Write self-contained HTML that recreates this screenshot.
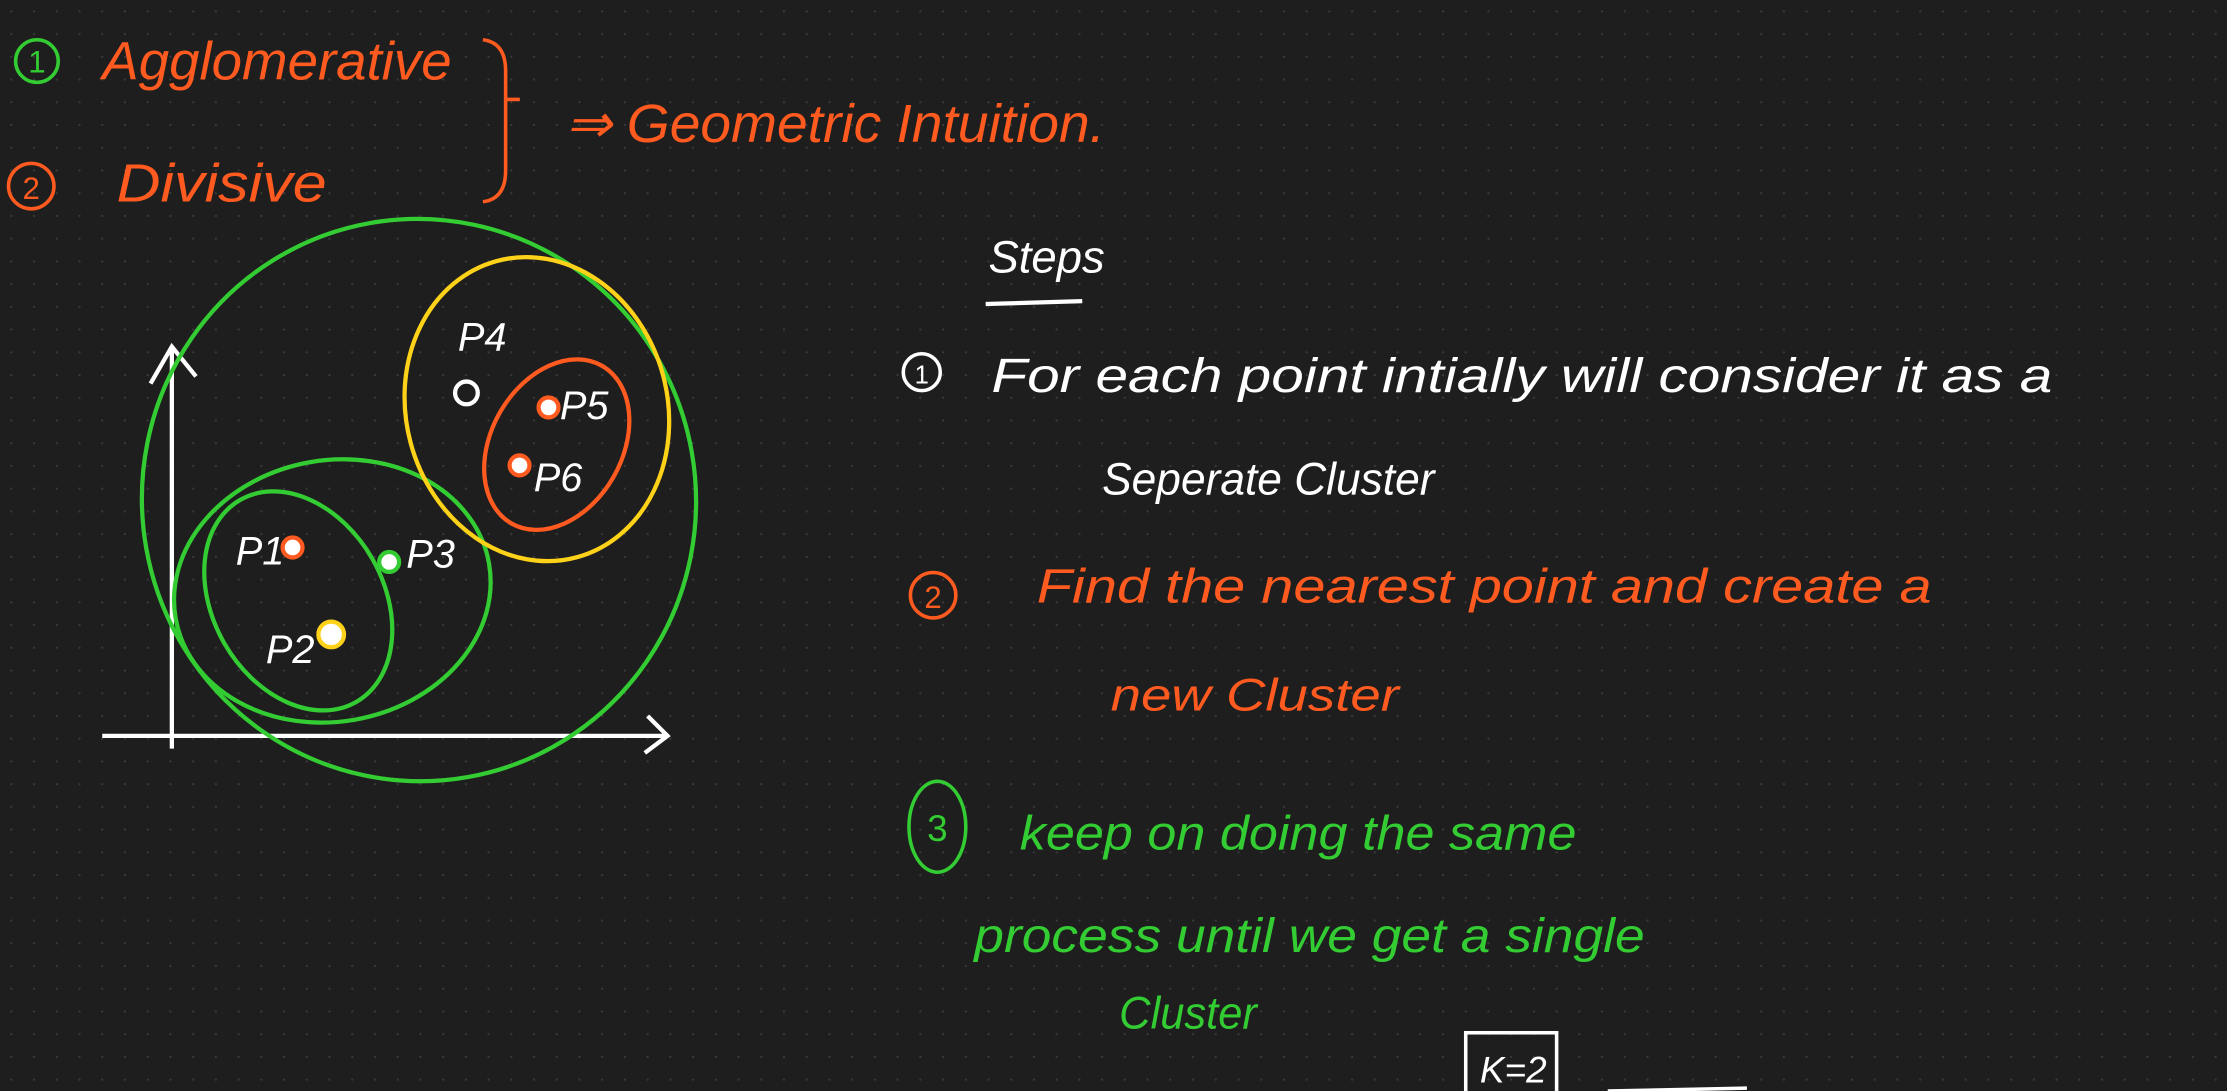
<!DOCTYPE html>
<html><head><meta charset="utf-8"><style>
html,body{margin:0;padding:0;background:#1e1e1e;}
svg{display:block;}
text{font-family:"Liberation Sans",sans-serif;}
</style></head><body>
<svg width="2227" height="1091" viewBox="0 0 1568 768" preserveAspectRatio="none" xmlns="http://www.w3.org/2000/svg">
<defs><pattern id="dots" width="16" height="16" patternUnits="userSpaceOnUse"><circle cx="8" cy="8" r="0.8" fill="#3a3a3a"/></pattern></defs>
<rect width="1568" height="768" fill="#1e1e1e"/>
<rect width="1568" height="768" fill="url(#dots)"/>

<g fill="none" stroke-width="2.5">
<circle cx="26" cy="43" r="15" stroke="#33cc33"/>
<text x="26" y="51" font-size="22" fill="#33cc33" stroke="none" text-anchor="middle">1</text>
<text x="72" y="56" font-size="38" fill="#ff5a1f" stroke="none" font-style="italic" textLength="246" lengthAdjust="spacingAndGlyphs">Agglomerative</text>
<circle cx="22" cy="131" r="16" stroke="#ff5a1f"/>
<text x="22" y="140" font-size="22" fill="#ff5a1f" stroke="none" text-anchor="middle">2</text>
<text x="82" y="142" font-size="38" fill="#ff5a1f" stroke="none" font-style="italic" textLength="148" lengthAdjust="spacingAndGlyphs">Divisive</text>
<path d="M340 28 Q356 30 356 50 L356 120 Q356 140 340 142 M356 70 L366 70" stroke="#ff5a1f"/>
<text x="398" y="100" font-size="38" fill="#ff5a1f" stroke="none" font-style="italic" textLength="380" lengthAdjust="spacingAndGlyphs">⇒ Geometric Intuition.</text>
</g>

<g>
<text x="696" y="192" font-size="32" fill="#fff" font-style="italic">Steps</text>
<path d="M694 214 L762 212" stroke="#fff" stroke-width="3"/>
<circle cx="649" cy="262" r="13" stroke="#fff" stroke-width="2.5" fill="none"/>
<text x="649" y="270" font-size="18" fill="#fff" text-anchor="middle">1</text>
<text x="698" y="276" font-size="34" fill="#fff" font-style="italic" textLength="747" lengthAdjust="spacingAndGlyphs">For each point intially will consider it as a</text>
<text x="776" y="348" font-size="32" fill="#fff" font-style="italic" textLength="234" lengthAdjust="spacingAndGlyphs">Seperate Cluster</text>
<circle cx="657" cy="419" r="16" stroke="#ff5a1f" stroke-width="2.5" fill="none"/>
<text x="657" y="428" font-size="22" fill="#ff5a1f" text-anchor="middle">2</text>
<text x="730" y="424" font-size="34" fill="#ff5a1f" font-style="italic" textLength="630" lengthAdjust="spacingAndGlyphs">Find the nearest point and create a</text>
<text x="782" y="500" font-size="32" fill="#ff5a1f" font-style="italic" textLength="203" lengthAdjust="spacingAndGlyphs">new Cluster</text>
<ellipse cx="660" cy="582" rx="20" ry="32" stroke="#33cc33" stroke-width="2.5" fill="none"/>
<text x="660" y="592" font-size="26" fill="#33cc33" text-anchor="middle">3</text>
<text x="718" y="598" font-size="34" fill="#33cc33" font-style="italic" textLength="392" lengthAdjust="spacingAndGlyphs">keep on doing the same</text>
<text x="686" y="670" font-size="34" fill="#33cc33" font-style="italic" textLength="472" lengthAdjust="spacingAndGlyphs">process until we get a single</text>
<text x="788" y="724" font-size="32" fill="#33cc33" font-style="italic" textLength="97" lengthAdjust="spacingAndGlyphs">Cluster</text>
<rect x="1032" y="727" width="64" height="50" fill="none" stroke="#fff" stroke-width="2.5"/>
<text x="1042" y="762" font-size="26" fill="#fff" font-style="italic">K=2</text>
<path d="M1132 768 L1230 766" stroke="#fff" stroke-width="2.5"/>
</g>

<g id="chart" fill="none" stroke-width="3">
<path d="M121 527 L121 245 M106 270 L121 244 L138 265" stroke="#fff"/>
<path d="M72 518 L470 518 M456 504 L470 518 L454 530" stroke="#fff"/>
<ellipse cx="295" cy="352" rx="195" ry="198" stroke="#33cc33" transform="rotate(-10 295 352)"/>
<ellipse cx="234" cy="416" rx="112" ry="92" stroke="#33cc33" transform="rotate(-10 234 416)"/>
<ellipse cx="210" cy="423" rx="60" ry="82" stroke="#33cc33" transform="rotate(-30 210 423)"/>
<ellipse cx="378" cy="288" rx="92" ry="108" stroke="#ffd21a" transform="rotate(-15 378 288)"/>
<ellipse cx="392" cy="313" rx="46" ry="64" stroke="#ff5a1f" transform="rotate(30 392 313)"/>
</g>
<script>
const pointLabels=["P1","P2","P3","P4","P5","P6"];
const xValues=[2.5,3.3,4.5,6.1,7.8,7.2];
const yValues=[3.9,2.1,3.6,7.1,6.8,5.6];
const pointColors=["#ff5a1f","#ffd21a","#33cc33","#ffffff","#ff5a1f","#ff5a1f"];
const xScale=v=>121+v*34;
const yScale=v=>518-v*34;
const offsets=[[-40,12],[-46,20],[12,4],[-6,-30],[8,8],[10,18]];
const ns="http://www.w3.org/2000/svg";
const g=document.getElementById('chart');
pointLabels.forEach((lab,i)=>{
  const cx=xScale(xValues[i]),cy=yScale(yValues[i]);
  const c=document.createElementNS(ns,'circle');
  
  
  c.setAttribute('cx',cx);c.setAttribute('cy',cy);c.setAttribute('r',i===1?9:(i===3?8:7));
  c.setAttribute('stroke',pointColors[i]);c.setAttribute('stroke-width',3);c.setAttribute('fill',i===3?'#1e1e1e':'#fff');
  g.appendChild(c);
  const t=document.createElementNS(ns,'text');
  
  
  t.setAttribute('x',cx+offsets[i][0]);t.setAttribute('y',cy+offsets[i][1]);
  t.setAttribute('font-size','28');t.setAttribute('fill','#fff');t.setAttribute('stroke','none');
  t.setAttribute('font-style','italic');
  t.textContent=lab;
  g.appendChild(t);
});
</script>
</svg>
</body></html>
